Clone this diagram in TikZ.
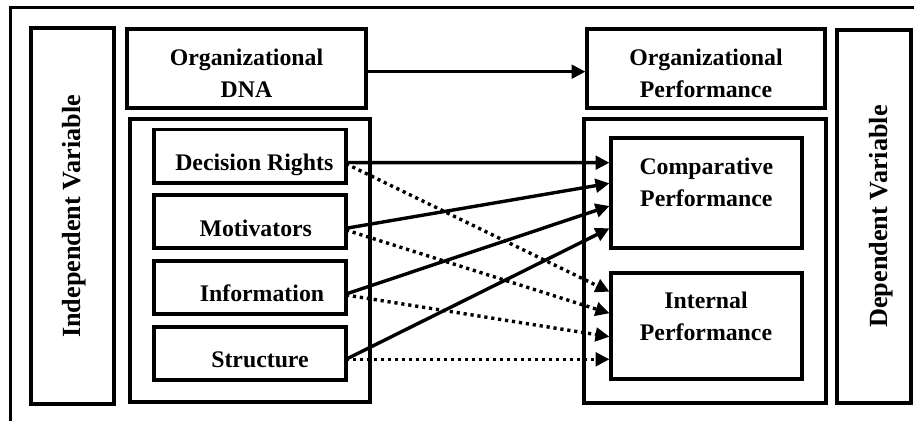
\documentclass[tikz,border=0pt]{standalone}
\usepackage{fontspec}
\setmainfont{Liberation Serif}
\usetikzlibrary{arrows.meta,fit,calc}
\begin{document}
\begin{tikzpicture}[x=0.5pt,y=-0.5pt,
  box/.style={draw,line width=1.8pt,inner sep=0pt,outer sep=0pt},
  lbl/.style={font=\bfseries\fontsize{11.9}{16}\selectfont,align=center,inner sep=0pt},
  vlbl/.style={font=\bfseries\fontsize{13.1}{16}\selectfont,inner sep=0pt,rotate=90},
  link/.style={line width=1.7pt,-{Triangle[length=7pt,width=6.8pt]}},
  dotlink/.style={link,dash pattern=on 1.6pt off 1.9pt}]
\useasboundingbox (0,0) rectangle (914,421);
% outer frame
\coordinate (fa) at (10,421);
\coordinate (fb) at (10,8);
\coordinate (fc) at (914,8);
\draw[line width=1.5pt] (fa) -- (fb) -- (fc);
% boxes
\node[box,fit={(31,28) (114,404)}] (indep) {};
\node[box,fit={(127,29) (366,108)}] (dna) {};
\node[box,fit={(130,119) (370,402)}] (leftbig) {};
\node[box,fit={(154,129.5) (346,183)}] (dr) {};
\node[box,fit={(154,195) (346,248)}] (mot) {};
\node[box,fit={(154,261) (346,314)}] (inf) {};
\node[box,fit={(154,327) (346,380)}] (str) {};
\node[box,fit={(587,29) (825,108)}] (perf) {};
\node[box,fit={(584,119) (826,403)}] (rightbig) {};
\node[box,fit={(611,138) (802,248)}] (comp) {};
\node[box,fit={(611,273) (802,379)}] (int) {};
\node[box,fit={(837,30) (911,403)}] (dep) {};
% texts
\node[lbl] (tdna) at (246.5,73.4) {Organizational\\DNA};
\node[lbl] (tperf) at (706,73.4) {Organizational\\Performance};
\node[lbl] (tcomp) at (706.3,182) {Comparative\\Performance};
\node[lbl] (tint) at (706,316.5) {Internal\\Performance};
\node[lbl,anchor=base] (tdr) at (254.3,170.7) {Decision Rights};
\node[lbl,anchor=base] (tmot) at (255.8,236.7) {Motivators};
\node[lbl,anchor=base] (tinf) at (262,301.7) {Information};
\node[lbl,anchor=base] (tstr) at (260,367.3) {Structure};
\node[vlbl] (tindep) at (74.2,216.5) {Independent Variable};
\node[vlbl] (tdep) at (881,216.5) {Dependent Variable};
% connectors
\draw[link] ($(dna.east)+(0,3.2)$) -- ($(perf.west)+(-1.5,3.2)$);
\draw[link] ($(dr.east)+(0,6.3)$) -- ($(comp.west)+(-1.5,-30.3)$);
\draw[link] ($(mot.east)+(0,6.8)$) -- ($(comp.west)+(-1.5,-9.7)$);
\draw[link] ($(inf.east)+(0,6.5)$) -- ($(comp.west)+(-1.5,13)$);
\draw[link] ($(str.east)+(0,5.8)$) -- ($(comp.west)+(-1.5,35.3)$);
\draw[dotlink] ($(dr.east)+(0,7.5)$) -- ($(int.west)+(-1.5,-34.3)$);
\draw[dotlink] ($(mot.east)+(0,8.5)$) -- ($(int.west)+(-1.5,-12.7)$);
\draw[dotlink] ($(inf.east)+(0,7.5)$) -- ($(int.west)+(-1.5,10.7)$);
\draw[dotlink] ($(str.east)+(0,5.8)$) -- ($(int.west)+(-1.5,33.3)$);
\end{tikzpicture}
\end{document}
